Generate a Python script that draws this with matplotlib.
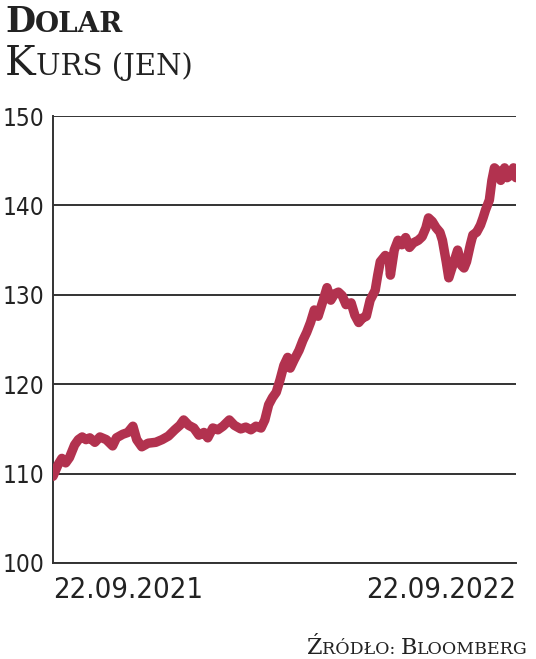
import matplotlib
matplotlib.use("Agg")
import matplotlib.pyplot as plt
import numpy as np

# kurs USD/JPY, 22.09.2021 - 22.09.2022 (dni od poczatku okresu)
days = [0, 4, 7, 10, 13, 17, 20, 23, 26, 29, 33, 37, 42, 47, 50, 55, 59, 63, 66, 70,
        75, 81, 86, 91, 96, 100, 103, 107, 111, 115, 119, 122, 126, 130, 134, 139, 143,
        148, 152, 156, 160, 164, 167, 170, 173, 176, 179, 182, 185, 187, 190, 194, 197,
        200, 203, 206, 209, 213, 216, 219, 222, 225, 228, 231, 235, 238, 241, 244, 247,
        250, 254, 256, 258, 262, 265, 266, 269, 272, 275, 278, 281, 284, 288, 291, 294,
        296, 299, 302, 305, 307, 310, 312, 314, 317, 319, 322, 324, 326, 329, 331, 334,
        337, 339, 341, 344, 346, 348, 351, 353, 356, 358, 360, 363, 365]
kurs = [109.7, 111.0, 111.7, 111.2, 111.8, 113.2, 113.8, 114.1, 113.8, 114.0, 113.5,
        114.1, 113.8, 113.1, 114.0, 114.4, 114.6, 115.3, 113.8, 113.0, 113.4, 113.5,
        113.8, 114.2, 114.9, 115.4, 116.0, 115.4, 115.1, 114.3, 114.6, 114.0, 115.1,
        114.9, 115.3, 116.0, 115.4, 115.0, 115.2, 114.9, 115.3, 115.1, 116.0, 117.7,
        118.5, 119.1, 120.5, 122.1, 123.0, 121.8, 122.7, 123.8, 124.9, 125.8, 126.9,
        128.3, 127.6, 129.4, 130.8, 129.4, 130.1, 130.3, 129.9, 128.9, 129.1, 127.7,
        126.9, 127.4, 127.6, 129.4, 130.5, 132.2, 133.7, 134.4, 134.1, 132.2, 135.0,
        136.1, 135.6, 136.4, 135.3, 135.8, 136.1, 136.5, 137.5, 138.6, 138.2, 137.5,
        137.0, 136.1, 133.7, 131.9, 132.8, 134.1, 135.0, 133.3, 133.0, 133.7, 135.6,
        136.7, 137.0, 137.8, 138.6, 139.5, 140.6, 142.8, 144.2, 143.8, 142.8, 144.2,
        143.1, 143.3, 144.2, 143.1]
y_ticks = [100, 110, 120, 130, 140, 150]
x_labels = ["22.09.2021", "22.09.2022"]

LINE = "#B2324F"
INK = "#222222"
W, H = 536, 659
TICK_FONT = dict(family="DejaVu Sans", stretch="condensed")


def small_caps(fig, x, y, parts, family, weight="normal", align="left"):
    # parts: (tekst, rozmiar) - kapitaliki udawane dwoma rozmiarami
    renderer = fig.canvas.get_renderer()
    texts = []
    for s, size in parts:
        t = fig.text(0, 1 - y / H, s, fontsize=size, family=family, weight=weight,
                     color=INK, ha="left", va="baseline")
        texts.append(t)
    widths = [t.get_window_extent(renderer).width for t in texts]
    start = x if align == "left" else x - sum(widths)
    for t, w in zip(texts, widths):
        t.set_x(start / W)
        start += w


fig = plt.figure(figsize=(W / 100, H / 100), dpi=100)
ax = fig.add_axes([53 / W, 1 - 563 / H, (516 - 53) / W, (563 - 116) / H])

ax.plot(days, kurs, color=LINE, linewidth=6.8, solid_capstyle="round",
        solid_joinstyle="round", zorder=3)

ax.set_xlim(0, 365)
ax.set_ylim(100, 150)
ax.set_yticks(y_ticks)
ax.set_yticklabels([str(v) for v in y_ticks], fontsize=17.5, color=INK, **TICK_FONT)
ax.set_xticks([0, 365])
ax.set_xticklabels(x_labels, fontsize=21, color=INK, **TICK_FONT)
labels = ax.get_xticklabels()
labels[0].set_ha("left")
labels[1].set_ha("right")
ax.tick_params(length=0)
ax.tick_params(axis="y", pad=6)
ax.tick_params(axis="x", pad=9)

ax.grid(axis="y", color="#333333", linewidth=1.4, zorder=1)
for side in ["top", "right"]:
    ax.spines[side].set_visible(False)
ax.spines["left"].set_color("#333333")
ax.spines["bottom"].set_color("#333333")
ax.spines["left"].set_linewidth(1.4)
ax.spines["bottom"].set_linewidth(1.4)

small_caps(fig, 5, 32, [("D", 25), ("OLAR", 20)], "DejaVu Serif", weight="bold")
small_caps(fig, 5, 75, [("K", 29.5), ("URS (JEN)", 21)], "DejaVu Serif")
small_caps(fig, 528, 654, [("Ź", 16), ("RÓDŁO: ", 12.5), ("B", 16), ("LOOMBERG", 12.5)],
           "DejaVu Serif", align="right")

fig.savefig("out.png", dpi=100)
